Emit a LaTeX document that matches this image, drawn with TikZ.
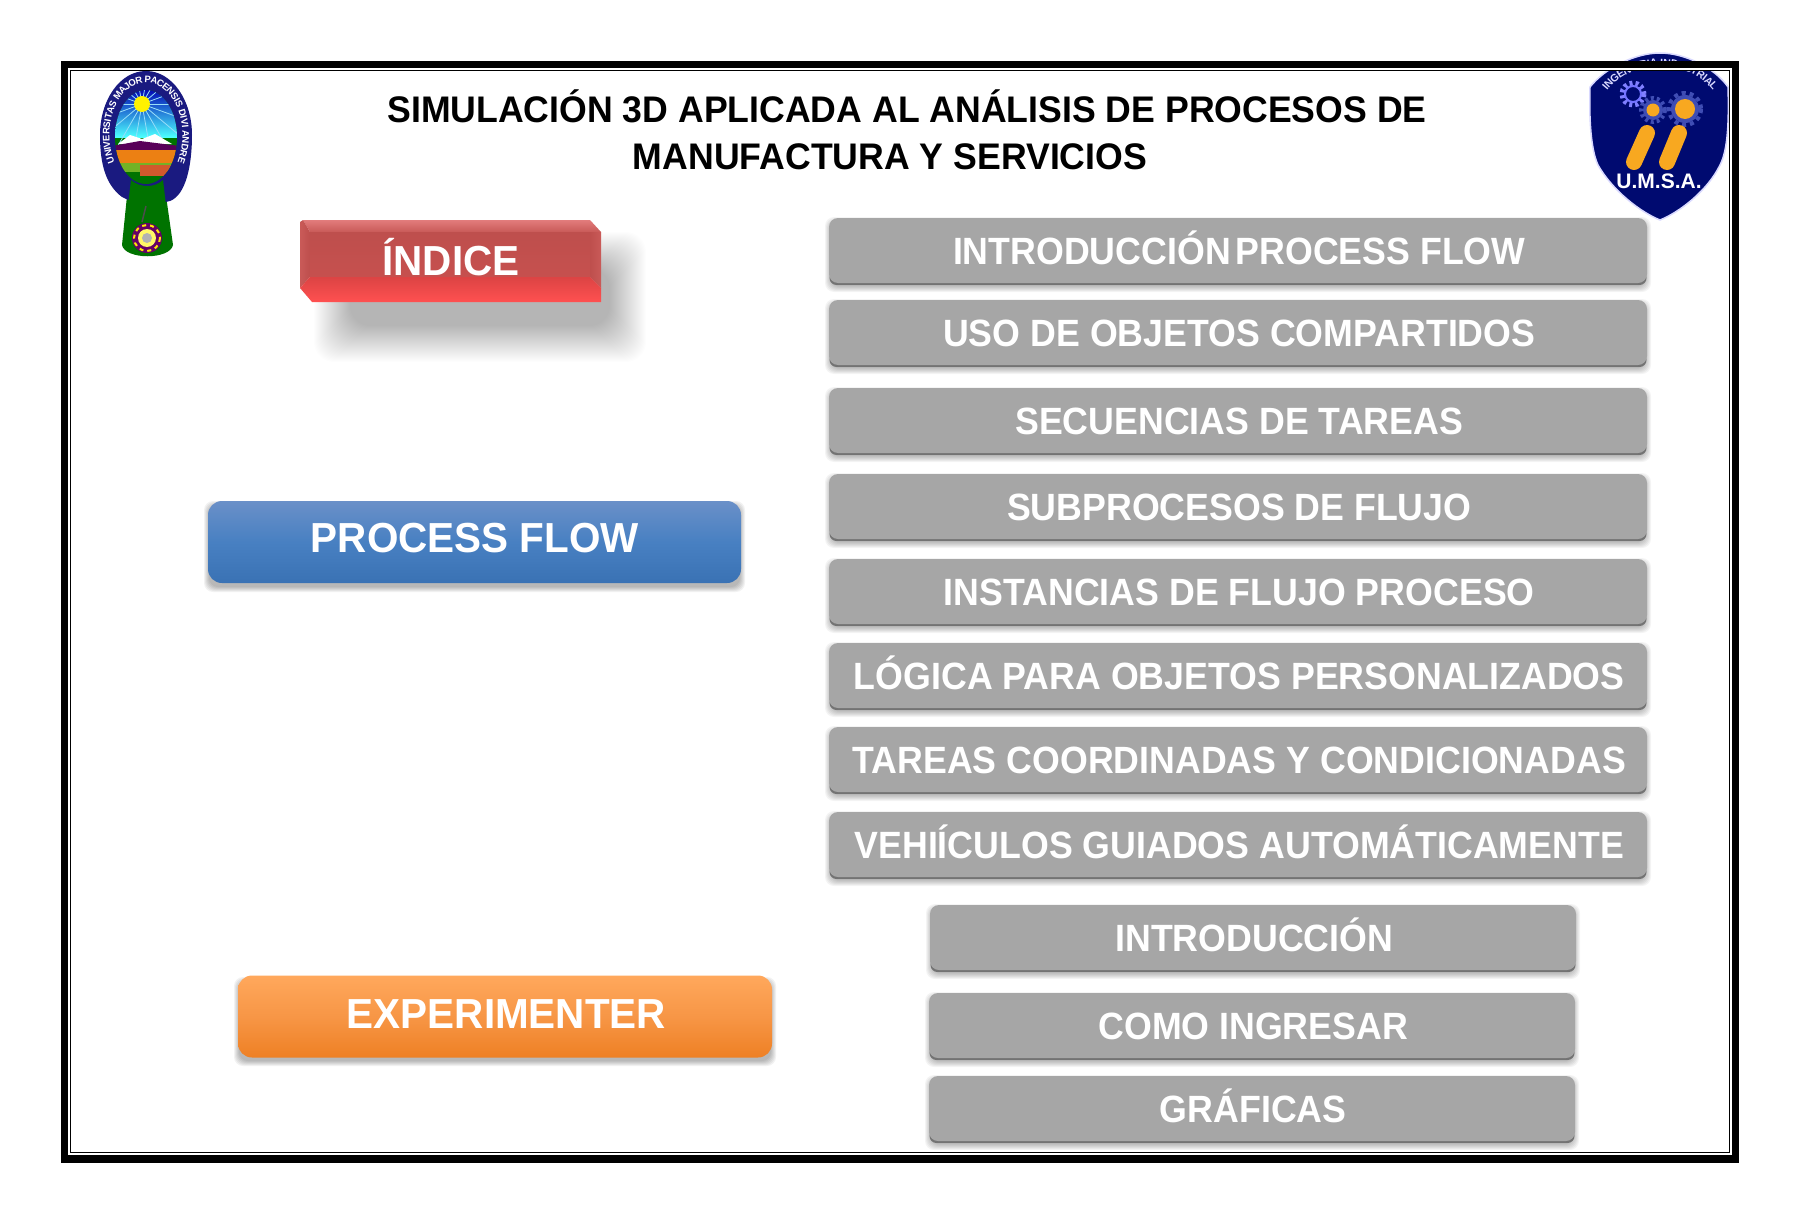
\documentclass[tikz,border=0pt]{standalone}
\usepackage{fontspec}
\setmainfont{Liberation Sans}
\newfontfamily\rowfont{Liberation Sans}[BoldFeatures={FakeStretch=0.94}]
\newfontfamily\headfont{Liberation Sans}[BoldFeatures={FakeStretch=0.963}]
\usetikzlibrary{decorations.text}
\definecolor{graybtn}{HTML}{A6A6A6}
\definecolor{navyseal}{HTML}{1A1A80}
\definecolor{navyshield}{HTML}{000A70}
\definecolor{goldbar}{HTML}{F8A820}
\definecolor{gearblue}{HTML}{3F4DB4}
\definecolor{blueA}{HTML}{3A72B4}
\definecolor{blueB}{HTML}{4880C2}
\definecolor{blueC}{HTML}{6A90C8}
\definecolor{orgA}{HTML}{EE8024}
\definecolor{orgB}{HTML}{F79646}
\definecolor{orgC}{HTML}{FFA85C}
\definecolor{redtop}{HTML}{E27C7C}
\definecolor{redtop2}{HTML}{C95A58}
\definecolor{redmid}{HTML}{BE4F4D}
\definecolor{redmid2}{HTML}{C6504E}
\definecolor{redlow}{HTML}{DC4444}
\definecolor{redlow2}{HTML}{FF5050}
\pgfdeclareverticalshading{blueshade}{100bp}{color(0bp)=(blueA);color(25bp)=(blueA);color(50bp)=(blueB);color(75bp)=(blueC);color(100bp)=(blueC)}
\pgfdeclareverticalshading{orangeshade}{100bp}{color(0bp)=(orgA);color(25bp)=(orgA);color(50bp)=(orgB);color(75bp)=(orgC);color(100bp)=(orgC)}
\tikzset{
  btnbase/.style={rectangle,rounded corners=9pt,inner sep=0pt,text=white,align=center,anchor=center,
    font=\rowfont\bfseries\fontsize{38}{40}\selectfont,text height=27pt,text depth=0pt},
  graybox/.style={btnbase,fill=graybtn},
  biglabel/.style={inner sep=0pt,text=white,font=\headfont\bfseries\fontsize{42}{44}\selectfont,text height=30pt,text depth=0pt},
  titletext/.style={inner sep=0pt,text=black,font=\headfont\bfseries\fontsize{37}{40}\selectfont,text height=27pt,text depth=0pt},
}
% soft shadow: x1 y1 x2 y2 grow-steps opacity
\newcommand{\softshadow}[6]{%
  \foreach \g in {0,...,#5}{%
    \fill[black,opacity=#6,rounded corners=9pt]
      ({#1-#5+\g},{#2-#5+\g}) rectangle ({#3+#5-\g},{#4+#5-\g});}}
\newcommand{\grayrow}[6]{%
  \softshadow{#2+1}{#3+4}{#4-1}{#5+4}{5}{0.045}
  \fill[black!55,rounded corners=7pt] ({#2+0.5},{#5-12}) rectangle ({#4-0.5},{#5+2});
  \node[graybox,minimum width={#4-#2},minimum height={#5-#3}] (#1) at ({(#2+#4)/2},{(#3+#5)/2}) {\hspace*{2.5pt}#6};}
\begin{document}
\begin{tikzpicture}[x=1pt,y=-1pt]
\useasboundingbox (0,0) rectangle (1800,1223);
\fill[white] (0,0) rectangle (1800,1223);

% --- University seal ---
\fill[green!45!black] (127,196) -- (166,196) -- (173,245) .. controls (170,260) and (125,260) .. (122,245) -- cycle;
\fill[navyseal] (146,71) .. controls (172,71) and (192,100) .. (192,135)
  .. controls (192,165) and (186,195) .. (170,201)
  .. controls (155,205) and (137,205) .. (122,197)
  .. controls (106,185) and (100,165) .. (100,135)
  .. controls (100,100) and (120,71) .. (146,71) -- cycle;
\begin{scope}
  \clip (146,137) ellipse [x radius=31,y radius=47];
  \fill[green!45!black] (100,85) rectangle (190,190);
  \shade[top color=blue!70!black,bottom color=cyan!70!white] (100,88) rectangle (190,137);
  \foreach \a in {0,20,...,340}{\draw[white!60!cyan,line width=0.8pt] (142,104) -- ++(\a:50);}
  \fill[yellow] (142,104) circle (8);
  \fill[white] (118,144) -- (130,135) -- (142,139) -- (155,134) -- (172,144) -- cycle;
  \fill[violet!70!black] (112,146) -- (140,141) -- (180,146) -- (180,150) -- (112,150) -- cycle;
  \fill[orange!70!brown] (100,150) rectangle (190,163);
  \fill[green!40!brown] (100,163) rectangle (190,172);
  \fill[brown!70!red] (140,165) rectangle (172,176);
\end{scope}
\fill[green!45!black] (131,180) .. controls (140,188) and (155,188) .. (163,180) -- (166,205) -- (128,205) -- cycle;
\path[decorate,decoration={text along path,text align=center,raise=-3.5pt,
   text={|\fontsize{9.5}{10}\bfseries\color{white}|UNIVERSITAS MAJOR PACENSIS DIVI ANDRE}}]
   (146,135) ++(125:40 and 56) arc[start angle=125,end angle=415,x radius=40,y radius=56];
\draw[gray!60!black,line width=1.5pt] (146,206) -- (142,222);
\fill[violet!80!black] (147,238) circle (15);
\draw[yellow!90!orange,line width=2pt,dash pattern=on 4pt off 4pt] (147,238) circle (13);
\fill[yellow!60!white] (147,238) circle (9);
\fill[gray!60!white] (147,238) circle (5);

% --- Faculty shield ---
\path[fill=navyshield,draw=blue!15!white,line width=1.5pt]
  (1590,87) .. controls (1605,68) and (1635,53) .. (1660,53)
  .. controls (1685,53) and (1715,68) .. (1728,87)
  .. controls (1729,120) and (1728,150) .. (1720,165)
  .. controls (1708,190) and (1680,212) .. (1660,220)
  .. controls (1640,212) and (1612,190) .. (1598,165)
  .. controls (1591,150) and (1589,120) .. (1590,87) -- cycle;
\draw[blue!50!white,line width=5pt,dash pattern=on 3pt off 3pt] (1633,94) circle (11);
\draw[blue!55!white,line width=2pt] (1633,94) circle (8);
\fill[gearblue] (1653,110) circle (10);
\draw[gearblue,line width=4pt,dash pattern=on 3pt off 3pt] (1653,110) circle (12);
\fill[goldbar] (1653,110) circle (6.5);
\fill[gearblue] (1685,109) circle (14);
\draw[gearblue,line width=4pt,dash pattern=on 4pt off 4pt] (1685,109) circle (16);
\fill[goldbar] (1685,109) circle (10);
\draw[goldbar,line width=16pt,line cap=round] (1647,133) -- (1634,162);
\draw[goldbar,line width=16pt,line cap=round] (1679,133) -- (1667,162);
\node[inner sep=0pt,text=white,font=\bfseries\fontsize{21}{22}\selectfont] (umsa) at (1659,181) {U.M.S.A.};
\path[decorate,decoration={text along path,text align=center,raise=-4pt,
   text={|\fontsize{10.5}{11}\bfseries\color{blue!15!white}|INGENIERIA INDUSTRIAL}}]
   (1597,99) .. controls (1622,50) and (1698,50) .. (1723,99);

% --- Frame ---
\draw[black,line width=7.6pt] (64.5,64.5) rectangle (1735.5,1159);
\draw[white,line width=1.7pt] (69.2,69.2) rectangle (1730.8,1154.3);
\draw[black,line width=0.9pt] (70.5,70.5) rectangle (1729.7,1152.7);

% --- Title ---
\node[titletext] (title1) at (907,109) {SIMULACIÓN 3D APLICADA AL ANÁLISIS DE PROCESOS DE};
\node[titletext] (title2) at (890,156) {MANUFACTURA Y SERVICIOS};

% --- Indice ---
\foreach \g in {0,...,36}{\fill[black,opacity=0.0095,rounded corners=20pt]
   ({314+\g},{232+\g}) rectangle ({646-\g},{362-\g});}
\shade[top color=redtop,bottom color=redtop2] (303,220) -- (590,220) -- (601,232) -- (310,232) -- cycle;
\shade[left color=redtop2,right color=redmid] (300,222) -- (303,220) -- (310,232) -- (310,277) -- (300,288) -- cycle;
\shade[left color=redmid,right color=redtop2] (590,232) -- (601,232) -- (601,288) -- (590,277) -- cycle;
\shade[top color=redmid,bottom color=redmid2] (310,232) rectangle (590,277);
\shade[top color=redlow,bottom color=redlow2] (300,288) -- (310,277) -- (590,277) -- (601,288) -- (601,302) -- (312,302) -- cycle;
\node[biglabel] (indice) at (451,260) {ÍNDICE};

% --- Left buttons ---
\softshadow{209}{506}{740}{587}{5}{0.05}
\node[btnbase,shading=blueshade,minimum width=533pt,minimum height=82pt,rounded corners=14pt] (pf) at (474.5,542) {};
\node[biglabel] (pflabel) at (475,537) {PROCESS FLOW};
\softshadow{239}{982}{771}{1061}{5}{0.05}
\node[btnbase,shading=orangeshade,minimum width=534pt,minimum height=82pt,rounded corners=14pt] (ex) at (505,1016.5) {};
\node[biglabel] (exlabel) at (506.5,1013) {EXPERIMENTER};

% --- Gray rows ---
\grayrow{r1}{829}{218}{1647}{283}{INTRODUCCIÓN\hspace{-5pt} PROCESS FLOW}
\grayrow{r2}{829}{300}{1647}{365}{USO DE OBJETOS COMPARTIDOS}
\grayrow{r3}{829}{388}{1647}{453}{SECUENCIAS DE TAREAS}
\grayrow{r4}{829}{474}{1647}{539}{SUBPROCESOS DE FLUJO}
\grayrow{r5}{829}{559}{1647}{624}{INSTANCIAS DE FLUJO PROCESO}
\grayrow{r6}{829}{643}{1647}{708}{LÓGICA PARA OBJETOS PERSONALIZADOS}
\grayrow{r7}{829}{727}{1647}{792}{TAREAS COORDINADAS Y CONDICIONADAS}
\grayrow{r8}{829}{812}{1647}{877}{VEHIÍCULOS GUIADOS AUTOMÁTICAMENTE}
\grayrow{r9}{930}{905}{1576}{970}{INTRODUCCIÓN}
\grayrow{r10}{929}{993}{1575}{1058}{COMO INGRESAR}
\grayrow{r11}{929}{1076}{1575}{1141}{GRÁFICAS}
\end{tikzpicture}
\end{document}
